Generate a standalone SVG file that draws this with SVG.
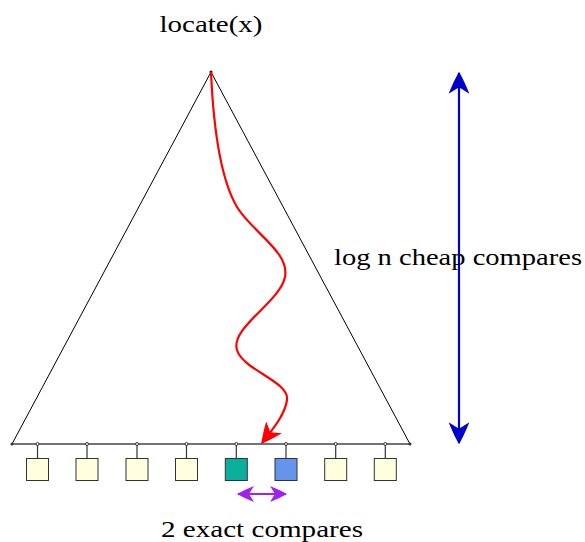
<svg xmlns="http://www.w3.org/2000/svg" width="585" height="542" viewBox="0 0 585 542">
<style>
.t{font-family:"Liberation Serif","DejaVu Serif",serif;font-size:23px;fill:#000}
.leaf{fill:#FFFFE0;stroke:#333;stroke-width:1}
.stem{stroke:#333;stroke-width:1.2}
.dot{fill:#fff;stroke:#333;stroke-width:1}
</style>
<defs>
<marker id="red" viewBox="0 0 17 16" refX="16" refY="8" markerWidth="21" markerHeight="20" markerUnits="userSpaceOnUse" orient="auto"><path d="M0,0 Q10,4 17,8 Q10,12 0,16 L5,8 Z" fill="#FF0000"/></marker>
<marker id="blue" viewBox="0 0 17 16" refX="16" refY="8" markerWidth="22" markerHeight="21" markerUnits="userSpaceOnUse" orient="auto-start-reverse"><path d="M0,0 Q10,4 17,8 Q10,12 0,16 L5,8 Z" fill="#0000CC"/></marker>
<marker id="purple" viewBox="0 0 17 16" refX="16" refY="8" markerWidth="17" markerHeight="17" markerUnits="userSpaceOnUse" orient="auto-start-reverse"><path d="M0,0 Q10,4 17,8 Q10,12 0,16 L5,8 Z" fill="#A020F0"/></marker>
</defs>
<g id="tree">
<path d="M211,72 L12,444 M211,72 L410,444" fill="none" stroke="#000" stroke-width="1"/>
<line x1="12" y1="444" x2="410" y2="444" stroke="#444" stroke-width="1.5"/>
<circle cx="211" cy="72" r="1.5" fill="#000"/>
<circle cx="12" cy="444" r="1.5" fill="#333"/>
<circle cx="410" cy="444" r="1.5" fill="#333"/>
</g>
<g id="leaves">
<g id="leaf1"><line class="stem" x1="37.5" y1="444" x2="37.5" y2="458"/><rect class="leaf" x="26.5" y="458.5" width="22" height="22"/><circle class="dot" cx="37.5" cy="444" r="1.5"/></g>
<g id="leaf2"><line class="stem" x1="87" y1="444" x2="87" y2="458"/><rect class="leaf" x="76" y="458.5" width="22" height="22"/><circle class="dot" cx="87" cy="444" r="1.5"/></g>
<g id="leaf3"><line class="stem" x1="137" y1="444" x2="137" y2="458"/><rect class="leaf" x="126" y="458.5" width="22" height="22"/><circle class="dot" cx="137" cy="444" r="1.5"/></g>
<g id="leaf4"><line class="stem" x1="186.5" y1="444" x2="186.5" y2="458"/><rect class="leaf" x="175.5" y="458.5" width="22" height="22"/><circle class="dot" cx="186.5" cy="444" r="1.5"/></g>
<g id="leaf5"><line class="stem" x1="236.3" y1="444" x2="236.3" y2="458"/><rect class="leaf" x="225.3" y="458.5" width="22" height="22" style="fill:#0BB09C"/><circle class="dot" cx="236.3" cy="444" r="1.5"/></g>
<g id="leaf6"><line class="stem" x1="286" y1="444" x2="286" y2="458"/><rect class="leaf" x="275" y="458.5" width="22" height="22" style="fill:#6495ED"/><circle class="dot" cx="286" cy="444" r="1.5"/></g>
<g id="leaf7"><line class="stem" x1="335.7" y1="444" x2="335.7" y2="458"/><rect class="leaf" x="324.7" y="458.5" width="22" height="22"/><circle class="dot" cx="335.7" cy="444" r="1.5"/></g>
<g id="leaf8"><line class="stem" x1="385.3" y1="444" x2="385.3" y2="458"/><rect class="leaf" x="374.3" y="458.5" width="22" height="22"/><circle class="dot" cx="385.3" cy="444" r="1.5"/></g>
</g>
<g id="connectors">
<path d="M211,72 C214,140 224,185 237,207 C252,232 290,252 285,277 C280,302 230,328 237,350 C243,370 290,382 287,400 C285,415 272,430 262,443" fill="none" stroke="#FF0000" stroke-width="2.2" marker-end="url(#red)"/>
<line x1="459" y1="73" x2="459" y2="443" stroke="#0000CC" stroke-width="2.2" marker-start="url(#blue)" marker-end="url(#blue)"/>
<line x1="238" y1="494" x2="286" y2="494" stroke="#A020F0" stroke-width="2.2" marker-start="url(#purple)" marker-end="url(#purple)"/>
</g>
<g id="labels">
<text class="t" x="211" y="32" text-anchor="middle" textLength="103" lengthAdjust="spacingAndGlyphs">locate(x)</text>
<text class="t" x="458" y="265" text-anchor="middle" textLength="248" lengthAdjust="spacingAndGlyphs">log n cheap compares</text>
<text class="t" x="262" y="537" text-anchor="middle" textLength="202" lengthAdjust="spacingAndGlyphs">2 exact compares</text>
</g>
</svg>
